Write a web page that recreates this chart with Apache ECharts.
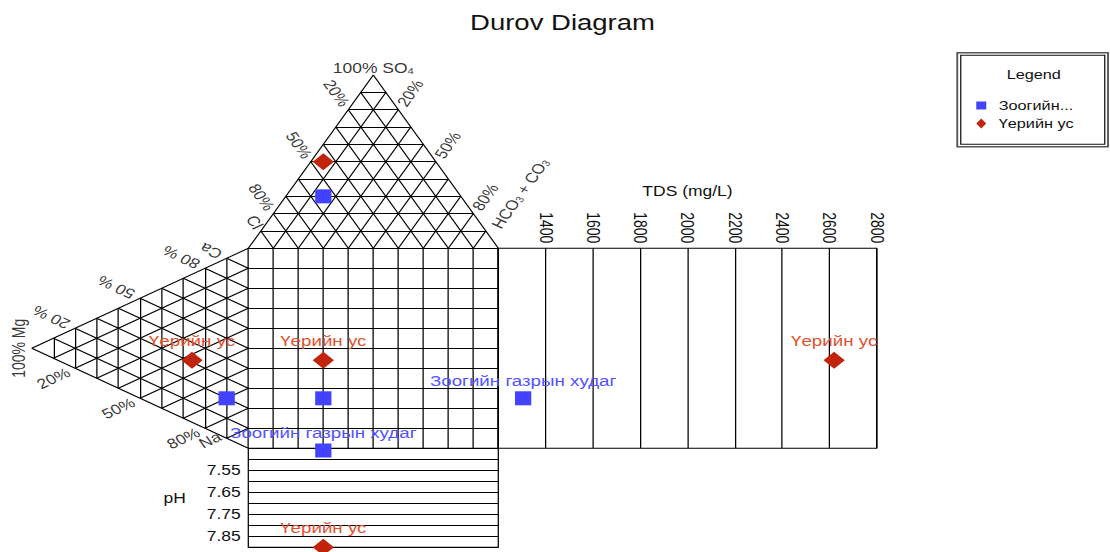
<!DOCTYPE html>
<html>
<head>
<meta charset="utf-8">
<title>Durov Diagram</title>
<script src="https://cdn.jsdelivr.net/npm/echarts@6/dist/echarts.min.js"></script>
<style>
  html, body { margin: 0; padding: 0; background: #fff; overflow: hidden; }
  /* the diagram is laid out with equilateral triangles and shown 1.25x wider */
  #chart { width: 888px; height: 552px; transform: scaleX(1.25); transform-origin: 0 0; }
</style>
</head>
<body>
<div id="chart"></div>
<script>
// ---- samples ----
const samples = ['Зоогийн газрын худаг', 'Үерийн ус'];
const markerColors = ['#4343ff', '#c1240b'];
const textColors = ['#5252ff', '#e0512f'];
const markerShapes = ['rect', 'diamond'];
const markerSizes = [[13, 14], [17, 17]];

// cations, meq %
const caPct = [20, 31];
const mgPct = [10, 26];
const naPct = [70, 43];
// anions, meq %
const hco3Pct = [15, 5];
const so4Pct = [30, 50];
const clPct = [55, 45];
// total dissolved solids (mg/L) and pH
const tdsValues = [1305, 2620];
const phValues = [7.46, 7.90];

// panels on which each sample carries a name label
const labelledPanels = [['tds', 'ph'], ['cation', 'square', 'tds', 'ph']];

// axes
const tdsRange = [1200, 2800];
const tdsStep = 200;
const phRange = [7.45, 7.90];
const phStep = 0.05;
const phTickLabels = ['7.55', '7.65', '7.75', '7.85'];
const triangleSteps = [10, 20, 30, 40, 50, 60, 70, 80, 90];
const edgeTicks = [20, 50, 80];
const legendMaxChars = 7;

// ---- geometry: square 0..100, triangles of side 100 ----
const H = Math.sqrt(3) / 2;
// anion triangle above the square: apex SO4, left Cl, right HCO3+CO3
const anionXY = (h, s) => [h + s / 2, 100 + H * s];
// cation triangle left of the square: top Ca, bottom Na, apex Mg
const cationXY = (ca, mg) => [-H * mg, ca + mg / 2];

const segs = [];
for (let k = 0; k <= 100; k += 10) {
  segs.push([[k, 0], [k, 100]]);
  segs.push([[0, k], [100, k]]);
}
// anion triangle outline and grid
segs.push([anionXY(0, 0), anionXY(0, 100)]);
segs.push([anionXY(100, 0), anionXY(0, 100)]);
triangleSteps.forEach(p => {
  segs.push([anionXY(0, p), anionXY(100 - p, p)]);       // constant SO4
  segs.push([anionXY(p, 0), anionXY(p, 100 - p)]);       // constant HCO3
  segs.push([anionXY(100 - p, 0), anionXY(0, 100 - p)]); // constant Cl
});
// cation triangle outline and grid
segs.push([cationXY(100, 0), cationXY(0, 100)]);
segs.push([cationXY(0, 0), cationXY(0, 100)]);
triangleSteps.forEach(p => {
  segs.push([cationXY(0, p), cationXY(100 - p, p)]);     // constant Mg
  segs.push([cationXY(p, 0), cationXY(p, 100 - p)]);     // constant Ca
  segs.push([cationXY(100 - p, 0), cationXY(0, 100 - p)]); // constant Na
});

// text along the triangle edges: point on the edge pushed out along a grid line
const along = (pt, dir, d) => [pt[0] + dir[0] * d, pt[1] + dir[1] * d];
const edgeText = [];
edgeTicks.forEach(v => {
  edgeText.push({ name: v + '%', value: along(anionXY(0, 100 - v), [-0.5, H], 9.5), rot: -60 });
  edgeText.push({ name: v + '%', value: along(anionXY(v, 100 - v), [0.5, H], 9.5), rot: 60 });
  edgeText.push({ name: v + ' %', value: along(cationXY(v, 100 - v), [-H, 0.5], 11), rot: 150 });
  edgeText.push({ name: v + '%', value: along(cationXY(0, 100 - v), [-H, -0.5], 10), rot: 30 });
});
const cornerText = [
  { name: '100% SO{s|4}', value: along(anionXY(0, 100), [0, 1], 3.5), rot: 0 },
  { name: 'Cl', value: along(anionXY(0, 10), [-0.5, H], 5), rot: -60 },
  { name: 'HCO{s|3} + CO{s|3}', value: along(anionXY(93, 7), [0.5, H], 24.6), rot: 60 },
  { name: 'Ca', value: along(cationXY(90, 10), [-H, 0.5], 7.25), rot: 150 },
  { name: 'Na', value: along(cationXY(0, 13), [-H, -0.5], 4.7), rot: 30 },
  { name: '100% Mg', value: along(cationXY(0, 100), [-1, 0], 5), rot: 90 }
];

const textSeries = (items, size) => ({
  type: 'scatter', xAxisIndex: 0, yAxisIndex: 0, symbolSize: 0, silent: true,
  clip: false, z: 5,
  data: items.map(t => ({ name: t.name, value: t.value, label: { rotate: t.rot } })),
  label: {
    show: true, position: 'inside', color: '#000', fontSize: size,
    formatter: p => p.name,
    rich: { s: { fontSize: 9, lineHeight: 9, verticalAlign: 'bottom', color: '#000' } }
  }
});

// ---- sample markers ----
const pointSeries = [];
samples.forEach((name, i) => {
  const sy = caPct[i] + mgPct[i] / 2;
  const sx = hco3Pct[i] + so4Pct[i] / 2;
  const lab = panel => ({
    show: labelledPanels[i].includes(panel), position: 'top', distance: 3,
    color: textColors[i], fontSize: 15, formatter: name
  });
  const base = {
    type: 'scatter', name: name, symbol: markerShapes[i], symbolSize: markerSizes[i],
    itemStyle: { color: markerColors[i], opacity: 1 }, clip: false, z: 10
  };
  pointSeries.push(Object.assign({}, base, {
    xAxisIndex: 0, yAxisIndex: 0,
    data: [
      { value: anionXY(hco3Pct[i], so4Pct[i]), label: lab('anion') },
      { value: cationXY(caPct[i], mgPct[i]), label: lab('cation') },
      { value: [sx, sy], label: lab('square') }
    ]
  }));
  pointSeries.push(Object.assign({}, base, {
    xAxisIndex: 1, yAxisIndex: 1,
    data: [{ value: [tdsValues[i], sy], label: lab('tds') }]
  }));
  pointSeries.push(Object.assign({}, base, {
    xAxisIndex: 2, yAxisIndex: 2,
    data: [{ value: [sx, phValues[i]], label: lab('ph') }]
  }));
});

const blackLine = { show: true, lineStyle: { color: '#000', width: 1 } };

const option = {
  animation: false,
  textStyle: { fontFamily: 'Liberation Sans, Arial, sans-serif' },
  title: [
    { text: 'Durov Diagram', left: 450, top: 11, textAlign: 'center', padding: 0,
      textStyle: { fontSize: 22, fontWeight: 'normal', color: '#111' } },
    { text: 'Legend', left: 827, top: 68, textAlign: 'center', padding: 0,
      textStyle: { fontSize: 13, fontWeight: 'normal', color: '#111' } }
  ],
  legend: {
    orient: 'vertical', left: 781, top: 99, padding: 0, itemGap: 5,
    itemWidth: 8, itemHeight: 10, selectedMode: false,
    textStyle: { fontSize: 13, color: '#111', padding: [0, 0, 0, 5] },
    formatter: n => (n.length > legendMaxChars + 3 ? n.slice(0, legendMaxChars) + '...' : n),
    data: [
      { name: samples[0], icon: 'path://M0,0h10v10h-10z' },
      { name: samples[1], icon: 'diamond' }
    ]
  },
  graphic: [
    { type: 'rect', silent: true, shape: { x: 765.8, y: 52.7, width: 120.6, height: 94 },
      style: { fill: 'none', stroke: '#555', lineWidth: 1.5 } },
    { type: 'rect', silent: true, shape: { x: 768.6, y: 55.2, width: 115.2, height: 89 },
      style: { fill: 'none', stroke: '#111', lineWidth: 1 } }
  ],
  grid: [
    { left: 18.64, top: 68.3, width: 380, height: 380, outerBoundsMode: 'none' },
    { left: 398.64, top: 248.3, width: 302.7, height: 200, show: true,
      borderColor: '#000', borderWidth: 1, outerBoundsMode: 'none' },
    { left: 198.64, top: 448.3, width: 200, height: 99, show: true,
      borderColor: '#000', borderWidth: 1, outerBoundsMode: 'none' }
  ],
  xAxis: [
    { gridIndex: 0, type: 'value', min: -90, max: 100, show: false },
    { gridIndex: 1, type: 'value', min: tdsRange[0], max: tdsRange[1], interval: tdsStep,
      position: 'top', name: 'TDS (mg/L)', nameLocation: 'middle', nameGap: 50,
      nameTextStyle: { fontSize: 14, color: '#111' },
      axisLine: { show: false }, axisTick: { show: false },
      axisLabel: { rotate: -90, fontSize: 14, color: '#111', margin: 5, showMinLabel: false,
        formatter: v => String(v) },
      splitLine: blackLine },
    { gridIndex: 2, type: 'value', min: 0, max: 100, show: false }
  ],
  yAxis: [
    { gridIndex: 0, type: 'value', min: 0, max: 190, show: false },
    { gridIndex: 1, type: 'value', min: 0, max: 100, show: false },
    { gridIndex: 2, type: 'value', min: phRange[0], max: phRange[1], interval: phStep,
      inverse: true, name: 'pH', nameLocation: 'middle', nameRotate: 0, nameGap: 50,
      nameTextStyle: { fontSize: 14, color: '#111' },
      axisLine: { show: false }, axisTick: { show: false },
      axisLabel: {
        fontSize: 14, color: '#111', margin: 6, padding: [0, 0, 7, 0],
        formatter: v => (phTickLabels.includes(v.toFixed(2)) ? v.toFixed(2) : '')
      },
      splitLine: blackLine }
  ],
  series: [
    { type: 'lines', coordinateSystem: 'cartesian2d', xAxisIndex: 0, yAxisIndex: 0,
      polyline: false, silent: true, z: 1,
      lineStyle: { color: '#000', width: 1, opacity: 1 },
      data: segs.map(c => ({ coords: c })) },
    textSeries(edgeText, 14),
    textSeries(cornerText, 14)
  ].concat(pointSeries)
};

const chart = echarts.init(document.getElementById('chart'), null, { renderer: 'svg' });
chart.setOption(option);
</script>
</body>
</html>
